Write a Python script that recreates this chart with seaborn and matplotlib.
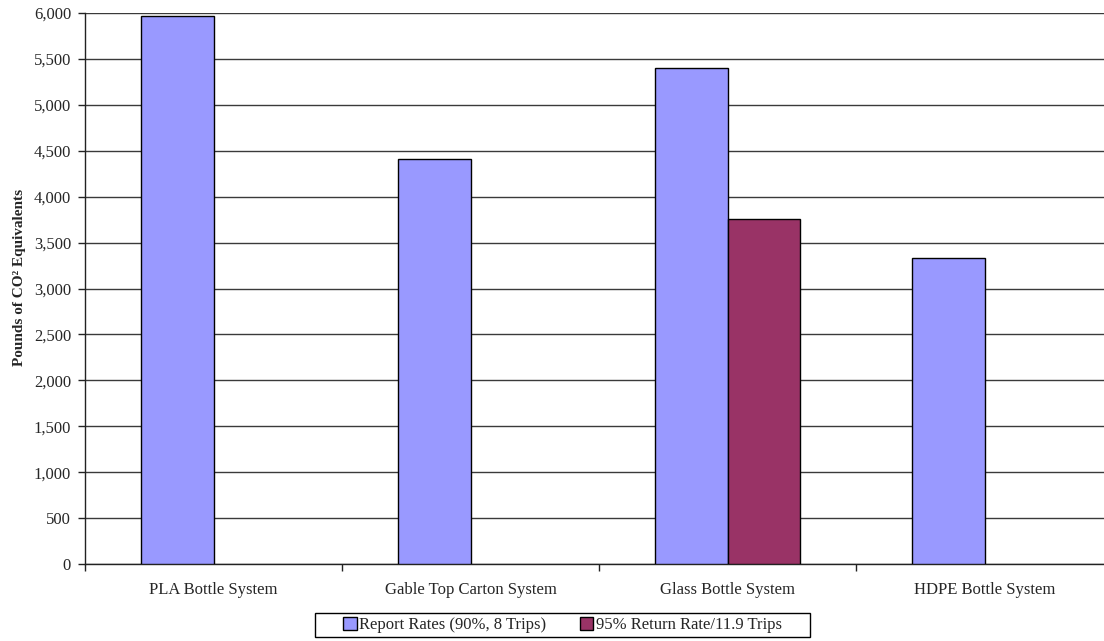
import matplotlib
matplotlib.use("Agg")
import matplotlib.pyplot as plt
from matplotlib.patches import Patch, Rectangle
from matplotlib.ticker import FuncFormatter, MultipleLocator
import seaborn as sns
import pandas as pd

# Data
systems = ["PLA Bottle System", "Gable Top Carton System", "Glass Bottle System", "HDPE Bottle System"]
series_names = ["Report Rates (90%, 8 Trips)", "95% Return Rate/11.9 Trips"]
report_rates = [5970, 4410, 5400, 3330]
return_rate_systems = ["Glass Bottle System"]
return_rate_values = [3760]
colors = ["#9999FF", "#993366"]

df = pd.DataFrame(
    {"system": systems, "value": report_rates, "series": series_names[0]}
)
df2 = pd.DataFrame(
    {"system": return_rate_systems, "value": return_rate_values, "series": series_names[1]}
)
data = pd.concat([df, df2], ignore_index=True)

sns.set_theme(style="white")
plt.rcParams["font.family"] = ["Liberation Serif", "DejaVu Serif"]

W, H = 1104, 641
fig = plt.figure(figsize=(W / 100, H / 100), dpi=100)
ax = fig.add_axes([85 / W, 1 - 564 / H, 1028 / W, 551 / H])

sns.barplot(
    data=data, x="system", y="value", hue="series",
    order=systems, hue_order=series_names,
    palette=colors, width=0.568, edgecolor="black", linewidth=1.0,
    saturation=1, errorbar=None, ax=ax, zorder=3,
)
ax.get_legend().remove()

ax.set_ylim(0, 6000)
ax.set_xlim(-0.5, 3.5)
ax.yaxis.set_major_locator(MultipleLocator(500))
ax.yaxis.set_major_formatter(FuncFormatter(lambda v, p: f"{int(v):,}"))
ax.grid(axis="y", color="#3a3a3a", linewidth=1.0, zorder=0)
ax.set_axisbelow(True)

for side in ["top", "right"]:
    ax.spines[side].set_visible(False)
for side in ["left", "bottom"]:
    ax.spines[side].set_color("#222222")
    ax.spines[side].set_linewidth(1.0)

# Category boundaries carry the x tick marks; labels sit at the centres
ax.set_xticks([-0.5, 0.5, 1.5, 2.5, 3.5], minor=False)
ax.set_xticklabels([])
ax.set_xticks([0, 1, 2, 3], minor=True)
ax.set_xticklabels(systems, minor=True, fontsize=12)
ax.tick_params(axis="x", which="major", direction="out", length=5, width=1, color="#222222", bottom=True)
ax.tick_params(axis="x", which="minor", length=0, pad=13)
ax.tick_params(axis="y", direction="out", length=5, width=1, color="#222222", left=True, labelsize=12, pad=5)

ax.set_xlabel("")
ax.set_ylabel("Pounds of CO² Equivalents", fontsize=11, fontweight="bold")
ax.yaxis.set_label_coords(-0.057, 0.52)

# Legend box below the axes
handles = [Patch(facecolor=c, edgecolor="black", linewidth=1) for c in colors]
fig.legend(
    handles, series_names, ncol=2, loc="center",
    bbox_to_anchor=((315 + 810) / 2 / W, 1 - 625 / H),
    frameon=False, fontsize=12,
    handlelength=0.8, handleheight=0.8, handletextpad=0.15, columnspacing=2.0,
    borderpad=0, borderaxespad=0,
)
fig.add_artist(Rectangle((315 / W, 1 - 637 / H), 495 / W, 24 / H,
                         transform=fig.transFigure, facecolor="none",
                         edgecolor="black", linewidth=1.0))

fig.savefig("out.png", dpi=100)
